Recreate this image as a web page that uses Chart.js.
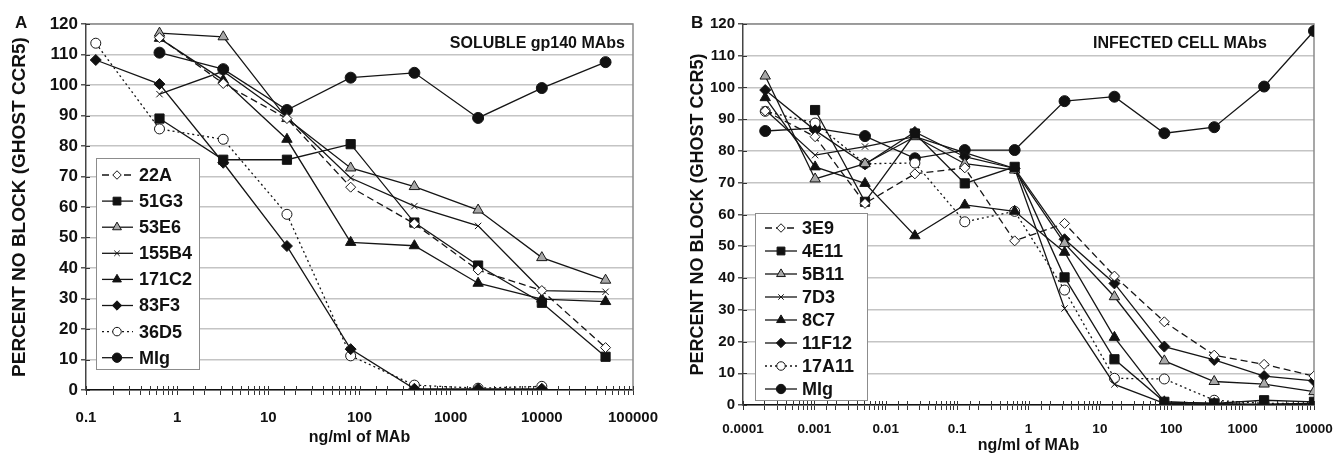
<!DOCTYPE html>
<html>
<head>
<meta charset="utf-8">
<script src="https://cdn.jsdelivr.net/npm/chart.js@4.4.1/dist/chart.umd.min.js"></script>
<style>
  body { margin: 0; background: #fff; width: 1335px; height: 455px; position: relative; overflow: hidden; font-family: 'Liberation Sans', Arial, sans-serif; }
  canvas { position: absolute; top: 0; }
  #chartA { left: 0; }
  #chartB { left: 665px; }
  .lbl { position: absolute; font-weight: bold; color: #111; white-space: nowrap; line-height: 1; }
</style>
</head>
<body>
<canvas id="chartA" width="665" height="455"></canvas>
<canvas id="chartB" width="670" height="455"></canvas>
<div class="lbl" style="left:15px; top:14px; font-size:17px;">A</div>
<div class="lbl" style="left:691px; top:14px; font-size:17px;">B</div>
<div class="lbl" style="right:710px; top:35px; font-size:16px;">SOLUBLE gp140 MAbs</div>
<div class="lbl" style="right:68px; top:35px; font-size:16px;">INFECTED CELL MAbs</div>
<script>
// ---- panel A: soluble gp140 MAbs ----
const concA = [0.128, 0.64, 3.2, 16, 80, 400, 2000, 10000, 50000];
const namesA = ['22A', '51G3', '53E6', '155B4', '171C2', '83F3', '36D5', 'MIg'];
const s22A   = [null, 115.5, 100.5, 89, 66.5, 54.5, 39.3, 32.6, 13.9];
const s51G3  = [null, 89, 75.5, 75.5, 80.6, 54.9, 40.8, 28.6, 10.9];
const s53E6  = [null, 117, 115.8, 89, 72.8, 66.7, 59, 43.4, 36];
const s155B4 = [null, 97, 104.5, 89.5, 69.5, 60.3, 53.8, 32.6, 32.2];
const s171C2 = [null, 115.3, 101.6, 82.2, 48.4, 47.3, 35, 29.8, 29];
const s83F3  = [108.2, 100.3, 74.5, 47.2, 13.4, 0.4, 0.4, 0.4, null];
const s36D5  = [113.7, 85.6, 82.2, 57.6, 11.2, 1.6, 0.6, 1.2, null];
const sMIgA  = [null, 110.6, 105.2, 91.8, 102.4, 104, 89.2, 99, 107.5];
const xLabelsA = ['0.1', '1', '10', '100', '1000', '10000', '100000'];

// ---- panel B: infected cell MAbs ----
const concB = [0.0002048, 0.001024, 0.00512, 0.0256, 0.128, 0.64, 3.2, 16, 80, 400, 2000, 10000];
const namesB = ['3E9', '4E11', '5B11', '7D3', '8C7', '11F12', '17A11', 'MIg'];
const s3E9   = [92.6, 84.5, 63.5, 72.8, 74.7, 51.7, 57.2, 40.6, 26.2, 15.7, 12.8, 9.1];
const s4E11  = [null, 92.9, 64, 85.5, 69.8, 75, 40.2, 14.4, 1, 0.5, 1.5, 1];
const s5B11  = [103.6, 71.2, 76, 84.5, 76, 74, 50.9, 34.1, 13.9, 7.4, 6.6, 4.2];
const s7D3   = [93, 78.7, 81.4, 84.5, 79.5, 74.5, 30.4, 6.5, 0.5, 0.3, 0.3, 0.5];
const s8C7   = [96.8, 75, 69.8, 53.3, 63, 61, 48.1, 21.3, 1, 0.5, 0, 0.5];
const s11F12 = [99.2, 86.5, 75.8, 86, 78.2, 74.5, 52.2, 38.3, 18.4, 14.2, 9.1, 7.6];
const s17A11 = [92.5, 88.8, 76, 76.2, 57.7, 61, 36.2, 8.4, 8.2, 1.5, 0.5, 0.5];
const sMIgB  = [86.3, 87.2, 84.7, 77.7, 80.3, 80.3, 95.7, 97.1, 85.6, 87.5, 100.3, 117.8];
const xLabelsB = ['0.0001', '0.001', '0.01', '0.1', '1', '10', '100', '1000', '10000'];

const yTicksMax = 120;

// marker / line look, same order in both panels
const markerStyles = [
  { pointStyle: 'rectRot',  radius: 5,   bg: '#fff',    dash: [7, 4] },
  { pointStyle: 'rect',     radius: 6.5, bg: '#111',    dash: [] },
  { pointStyle: 'triangle', radius: 6,   bg: '#a8a8a8', dash: [] },
  { pointStyle: 'crossRot', radius: 4.5, bg: '#111',    dash: [] },
  { pointStyle: 'triangle', radius: 6,   bg: '#111',    dash: [] },
  { pointStyle: 'rectRot',  radius: 5.5, bg: '#111',    dash: [] },
  { pointStyle: 'circle',   radius: 5,   bg: '#fff',    dash: [2, 3] },
  { pointStyle: 'circle',   radius: 5.5, bg: '#111',    dash: [] }
];

const FONT = "'Liberation Sans', Arial, sans-serif";

function buildDatasets(names, conc, series) {
    return names.map((name, i) => {
        const st = markerStyles[i];
        return {
            label: name,
            data: conc.map((x, j) => ({ x: x, y: series[i][j] })),
            borderColor: '#151515',
            borderWidth: 1.3,
            borderDash: st.dash,
            pointStyle: st.pointStyle,
            pointRadius: st.radius,
            pointBackgroundColor: st.bg,
            pointBorderColor: '#151515',
            pointBorderWidth: 1,
            tension: 0,
            fill: false
        };
    });
}

// gray frame on top/right, plus tick marks reaching inside the plot
const frame = {
    id: 'frame',
    beforeDatasetsDraw(chart) {
        const { ctx, chartArea: a, scales } = chart;
        ctx.save();
        ctx.strokeStyle = '#8a8a8a';
        ctx.lineWidth = 1.5;
        ctx.beginPath();
        ctx.moveTo(a.left, a.top);
        ctx.lineTo(a.right, a.top);
        ctx.lineTo(a.right, a.bottom);
        ctx.stroke();
        ctx.strokeStyle = '#333';
        ctx.lineWidth = 1;
        ctx.beginPath();
        scales.x.ticks.forEach(t => {
            const px = Math.round(scales.x.getPixelForValue(t.value)) + 0.5;
            ctx.moveTo(px, a.bottom);
            ctx.lineTo(px, a.bottom - 4);
        });
        scales.y.ticks.forEach(t => {
            const py = Math.round(scales.y.getPixelForValue(t.value)) + 0.5;
            ctx.moveTo(a.left, py);
            ctx.lineTo(a.left + 4, py);
        });
        ctx.stroke();
        ctx.restore();
    }
};

// boxed legend inside the plot area, bottom left
const boxLegend = {
    id: 'boxLegend',
    afterDatasetsDraw(chart, args, o) {
        const { ctx, chartArea } = chart;
        const bx = chartArea.left + o.offsetX;
        const by = chartArea.bottom - o.offsetBottom - o.height;
        ctx.save();
        ctx.fillStyle = '#fff';
        ctx.fillRect(bx, by, o.width, o.height);
        ctx.strokeStyle = '#8c8c8c';
        ctx.lineWidth = 1;
        ctx.strokeRect(bx + 0.5, by + 0.5, o.width, o.height);
        ctx.font = 'bold ' + o.fontSize + 'px ' + FONT;
        ctx.textBaseline = 'middle';
        ctx.textAlign = 'left';
        chart.data.datasets.forEach((ds, i) => {
            const cy = by + o.firstRow + i * o.rowHeight;
            ctx.setLineDash(ds.borderDash || []);
            ctx.strokeStyle = ds.borderColor;
            ctx.lineWidth = ds.borderWidth;
            ctx.beginPath();
            ctx.moveTo(bx + o.lineFrom, cy);
            ctx.lineTo(bx + o.lineTo, cy);
            ctx.stroke();
            ctx.setLineDash([]);
            ctx.fillStyle = ds.pointBackgroundColor;
            ctx.strokeStyle = ds.pointBorderColor;
            ctx.lineWidth = ds.pointBorderWidth;
            Chart.helpers.drawPoint(ctx, {
                pointStyle: ds.pointStyle,
                radius: ds.pointRadius * 0.85,
                borderWidth: ds.pointBorderWidth,
                rotation: 0
            }, bx + o.markerX, cy);
            ctx.fillStyle = '#111';
            ctx.fillText(ds.label, bx + o.textX, cy + 1);
        });
        ctx.restore();
    }
};

function makeChart(id, datasets, xMin, xMax, xLabels, lay) {
    const minExp = Math.round(Math.log10(xMin));
    return new Chart(document.getElementById(id), {
        type: 'line',
        data: { datasets: datasets },
        plugins: [frame, boxLegend],
        options: {
            responsive: false,
            animation: false,
            devicePixelRatio: 1,
            layout: { padding: { left: 0, top: 24, right: lay.padRight, bottom: 0 } },
            scales: {
                x: {
                    type: 'logarithmic',
                    min: xMin,
                    max: xMax,
                    afterFit(s) { s.height = lay.xHeight; s.paddingLeft = 0; s.paddingRight = 0; },
                    grid: { drawOnChartArea: false, tickLength: 5, tickColor: '#333', lineWidth: 1 },
                    border: { color: '#111', width: 1.5 },
                    ticks: {
                        autoSkip: false,
                        maxRotation: 0,
                        padding: lay.xTickPad,
                        color: '#111',
                        font: { family: FONT, weight: 'bold', size: lay.xTickSize },
                        callback: function(v) {
                            const lg = Math.log10(v);
                            const e = Math.round(lg);
                            return Math.abs(lg - e) < 1e-6 ? xLabels[e - minExp] : '';
                        }
                    },
                    title: {
                        display: true,
                        text: 'ng/ml of MAb',
                        color: '#111',
                        font: { family: FONT, weight: 'bold', size: 16, lineHeight: 1.2 },
                        padding: { top: 0, bottom: lay.xTitlePad }
                    }
                },
                y: {
                    min: 0,
                    max: yTicksMax,
                    afterFit(s) { s.width = lay.yWidth; s.paddingTop = 0; s.paddingBottom = 0; },
                    grid: { color: '#c4c4c4', lineWidth: 1.5, tickLength: 5, tickColor: '#555' },
                    border: { color: '#444', width: 1.5 },
                    ticks: {
                        stepSize: 10,
                        padding: 3,
                        color: '#111',
                        font: { family: FONT, weight: 'bold', size: lay.yTickSize }
                    },
                    title: {
                        display: true,
                        text: 'PERCENT NO BLOCK (GHOST CCR5)',
                        color: '#111',
                        font: { family: FONT, weight: 'bold', size: lay.yTitleSize, lineHeight: 1.2 },
                        padding: { top: lay.yTitlePad, bottom: 0 }
                    }
                }
            },
            plugins: {
                legend: { display: false },
                tooltip: { enabled: false },
                boxLegend: lay.legend
            }
        }
    });
}

const chartA = makeChart('chartA',
    buildDatasets(namesA, concA, [s22A, s51G3, s53E6, s155B4, s171C2, s83F3, s36D5, sMIgA]),
    0.1, 100000, xLabelsA,
    {
        padRight: 32, xHeight: 65, yWidth: 86, xTickPad: 14, xTitlePad: 8, yTitlePad: 8.6,
        xTickSize: 15, yTickSize: 17, yTitleSize: 19,
        legend: { offsetX: 10, offsetBottom: 21, width: 103, height: 211, firstRow: 17, rowHeight: 26.1,
                  lineFrom: 6, lineTo: 37, markerX: 21, textX: 43, fontSize: 18 }
    });

const chartB = makeChart('chartB',
    buildDatasets(namesB, concB, [s3E9, s4E11, s5B11, s7D3, s8C7, s11F12, s17A11, sMIgB]),
    0.0001, 10000, xLabelsB,
    {
        padRight: 21, xHeight: 50, yWidth: 78, xTickPad: 11, xTitlePad: 0, yTitlePad: 22,
        xTickSize: 13.5, yTickSize: 15, yTitleSize: 18,
        legend: { offsetX: 12, offsetBottom: 5, width: 112, height: 187, firstRow: 15, rowHeight: 23,
                  lineFrom: 10, lineTo: 42, markerX: 26, textX: 47, fontSize: 18 }
    });
</script>
</body>
</html>
